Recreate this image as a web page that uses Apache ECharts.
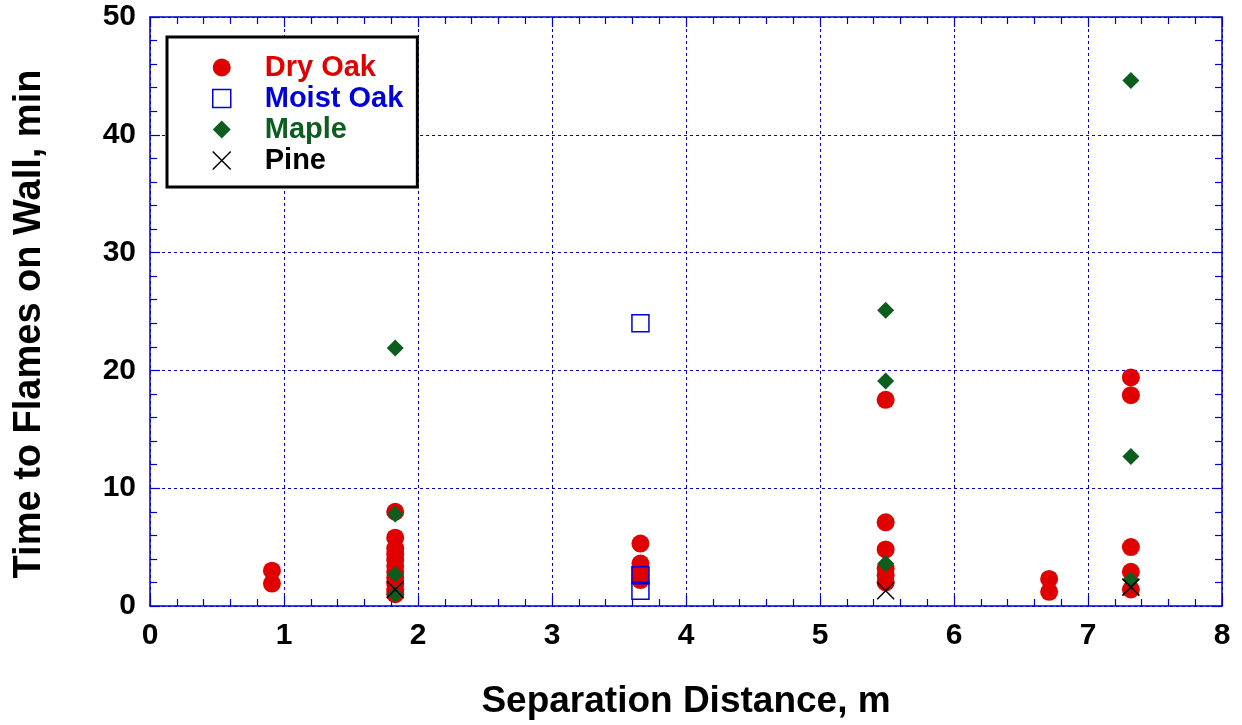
<!DOCTYPE html>
<html>
<head>
<meta charset="utf-8">
<script src="https://cdn.jsdelivr.net/npm/echarts@6/dist/echarts.min.js"></script>
<style>html,body{margin:0;padding:0;background:#fff}#c{width:1242px;height:725px}</style>
</head>
<body>
<div id="c"></div>
<script>
const seriesNames = ['Dry Oak', 'Moist Oak', 'Maple', 'Pine'];
const dryOakX = [0.91, 0.91, 1.83, 1.83, 1.83, 1.83, 1.83, 1.83, 1.83, 1.83, 1.83, 1.83, 1.83, 3.66, 3.66, 3.66, 3.66, 3.66, 5.49, 5.49, 5.49, 5.49, 5.49, 5.49, 6.71, 6.71, 7.32, 7.32, 7.32, 7.32, 7.32];
const dryOakY = [3.0, 1.9, 8.0, 5.8, 4.9, 4.4, 3.9, 3.4, 2.9, 2.4, 1.9, 1.4, 1.0, 5.3, 3.6, 3.1, 2.6, 2.2, 17.5, 7.1, 4.8, 3.2, 2.6, 2.0, 2.3, 1.2, 19.4, 17.9, 5.0, 2.9, 1.4];
const moistOakX = [3.66, 3.66, 3.66];
const moistOakY = [24.0, 2.6, 1.3];
const mapleX = [1.83, 1.83, 1.83, 1.83, 5.49, 5.49, 5.49, 7.32, 7.32, 7.32];
const mapleY = [21.9, 7.8, 2.7, 1.0, 25.1, 19.1, 3.6, 44.6, 12.7, 2.2];
const pineX = [1.83, 5.49, 7.32];
const pineY = [1.4, 1.3, 1.6];
const xTicks = [0, 1, 2, 3, 4, 5, 6, 7, 8];
const yTicks = [0, 10, 20, 30, 40, 50];

const zip = (xs, ys) => xs.map((x, i) => [x, ys[i]]);
const FONT = "'Liberation Sans', Arial, sans-serif";
const AXIS_BLUE = '#0000cc';
const RED = '#e00000', BLUE = '#0000dd', GREEN = '#0b5e1e', BLACK = '#000';

const baseAxis = (min, max, interval) => ({
  type: 'value', min: min, max: max, interval: interval,
  axisLine: {show: true, onZero: false, lineStyle: {color: AXIS_BLUE, width: 1.5}},
  axisTick: {show: true, inside: true, length: 10, lineStyle: {color: AXIS_BLUE, width: 1.2}},
  minorTick: {show: true, splitNumber: 5, length: 7, lineStyle: {color: AXIS_BLUE, width: 1.2}},
  splitLine: {show: false},
  axisLabel: {show: false}
});

const xMain = Object.assign(baseAxis(xTicks[0], xTicks[xTicks.length - 1], 1), {
  position: 'bottom',
  name: 'Separation Distance, m', nameLocation: 'middle', nameGap: 77,
  nameTextStyle: {fontFamily: FONT, fontWeight: 'bold', fontSize: 37, color: '#000'},
  axisLabel: {show: true, fontFamily: FONT, fontSize: 30, fontWeight: 'bold', color: '#000', margin: 15},
  splitLine: {show: true, lineStyle: {color: AXIS_BLUE, type: [3, 3], width: 1}}
});
const xTop = Object.assign(baseAxis(xTicks[0], xTicks[xTicks.length - 1], 1), {position: 'top'});
const yMain = Object.assign(baseAxis(yTicks[0], yTicks[yTicks.length - 1], 10), {
  position: 'left',
  name: 'Time to Flames on Wall, min', nameLocation: 'middle', nameGap: 101,
  nameTextStyle: {fontFamily: FONT, fontWeight: 'bold', fontSize: 38, color: '#000', padding: [0, 25, 0, 0]},
  axisLabel: {show: true, fontFamily: FONT, fontSize: 30, fontWeight: 'bold', color: '#000', margin: 14},
  splitLine: {show: true, lineStyle: {color: AXIS_BLUE, type: [3, 3], width: 1}}
});
const yRight = Object.assign(baseAxis(yTicks[0], yTicks[yTicks.length - 1], 10), {position: 'right'});

const chart = echarts.init(document.getElementById('c'), null, {renderer: 'canvas'});
chart.setOption({
  backgroundColor: '#fff',
  animation: false,
  grid: {left: 150, right: 20, top: 17, bottom: 118, containLabel: false},
  xAxis: [xMain, xTop],
  yAxis: [yMain, yRight],
  legend: {
    orient: 'vertical', left: 167, top: 37,
    padding: [16, 14, 12, 45],
    backgroundColor: '#fff',
    borderColor: '#000', borderWidth: 3,
    itemWidth: 18, itemHeight: 18, itemGap: 2,
    textStyle: {fontFamily: FONT, fontWeight: 'bold', fontSize: 29, padding: [0, 0, 0, 29]},
    data: [
      {name: seriesNames[0], textStyle: {color: RED}},
      {name: seriesNames[1], textStyle: {color: BLUE}, itemStyle: {color: 'rgba(0,0,0,0)', borderColor: BLUE, borderWidth: 1.5}},
      {name: seriesNames[2], textStyle: {color: GREEN}},
      {name: seriesNames[3], textStyle: {color: BLACK}, itemStyle: {color: 'rgba(0,0,0,0)', borderColor: BLACK, borderWidth: 1.5}}
    ]
  },
  series: [
    {name: seriesNames[0], type: 'scatter', data: zip(dryOakX, dryOakY), symbol: 'circle', symbolSize: 18,
     itemStyle: {color: RED, opacity: 1}},
    {name: seriesNames[1], type: 'scatter', data: zip(moistOakX, moistOakY), symbol: 'rect', symbolSize: 17,
     itemStyle: {color: 'rgba(0,0,0,0)', borderColor: BLUE, borderWidth: 1.5, opacity: 1}},
    {name: seriesNames[2], type: 'scatter', data: zip(mapleX, mapleY), symbol: 'diamond', symbolSize: 17,
     itemStyle: {color: GREEN, opacity: 1}},
    {name: seriesNames[3], type: 'scatter', data: zip(pineX, pineY), symbol: 'path://M0,0L10,10M10,0L0,10', symbolSize: 17,
     itemStyle: {color: 'rgba(0,0,0,0)', borderColor: BLACK, borderWidth: 1.5, opacity: 1}}
  ]
});
</script>
</body>
</html>
